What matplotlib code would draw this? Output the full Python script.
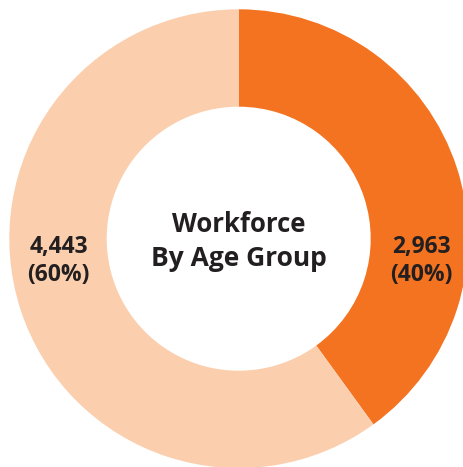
import matplotlib
matplotlib.use("Agg")
import matplotlib.pyplot as plt

categories = ["Group A", "Group B"]
values = [2963, 4443]
colors = ["#F37321", "#FBCFAE"]
title_lines = ["Workforce", "By Age Group"]

W, H = 464, 467
fig = plt.figure(figsize=(W / 100, H / 100), dpi=100)
ax = fig.add_axes([0, 0, 1, 1])
ax.set_xlim(0, W)
ax.set_ylim(0, H)
ax.set_aspect("equal")
ax.axis("off")

cx, cy = 238.7, H - 238.7
R_out, R_in = 229.4, 132.0

ax.pie(values, colors=colors, startangle=90, counterclock=False,
       center=(cx, cy), radius=R_out,
       wedgeprops=dict(width=R_out - R_in, linewidth=0), frame=True)
ax.set_xlim(0, W)
ax.set_ylim(0, H)
ax.axis("off")

font = ["Open Sans", "DejaVu Sans"]
txt_color = "#231F20"

total = sum(values)
label_x = [cx + 183, cx - 180]
for v, lx in zip(values, label_x):
    pct = round(v / total * 100)
    ax.text(lx, H - 246.5, f"{v:,}", ha="center", va="center", fontsize=16.5,
            fontweight="bold", color=txt_color, family=font)
    ax.text(lx, H - 275, f"({pct}%)", ha="center", va="center", fontsize=16.5,
            fontweight="bold", color=txt_color, family=font)

ax.text(cx, H - 224, title_lines[0], ha="center", va="center", fontsize=18.5,
        fontweight="bold", color=txt_color, family=font)
ax.text(cx, H - 259, title_lines[1], ha="center", va="center", fontsize=19,
        fontweight="bold", color=txt_color, family=font)

fig.savefig("out.png", dpi=100, facecolor="white")
